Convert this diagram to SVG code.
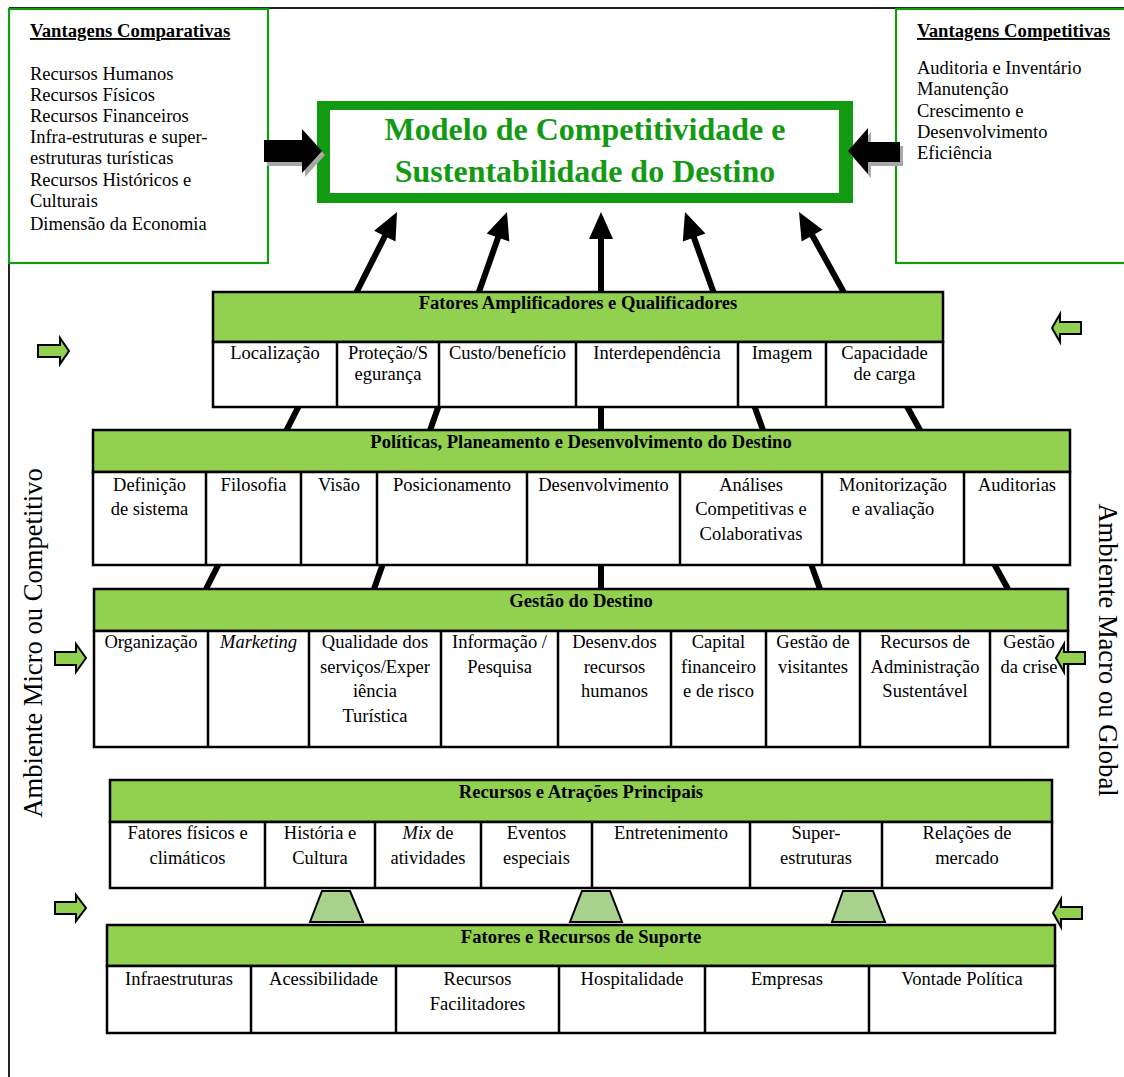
<svg xmlns="http://www.w3.org/2000/svg" width="1124" height="1077" viewBox="0 0 1124 1077">
<style>
.frame{fill:none;stroke:#222;stroke-width:2}
.gbox{fill:#fff;stroke:#139A13;stroke-width:2.2}
.hdr{fill:#92D050;stroke:#000;stroke-width:2.5}
.body{fill:#fff;stroke:#000;stroke-width:2.5}
.div{stroke:#000;stroke-width:2.5}
.conn{stroke:#000;stroke-width:6;fill:none}
.head{fill:#000}
.ga{fill:#92D050;stroke:#000;stroke-width:2;stroke-linejoin:miter}
.trap{fill:#A9D18E;stroke:#000;stroke-width:2}
.ba{fill:#000}
.sh{fill:#a8a8a8}
text{font-family:"Liberation Serif","Times New Roman",serif;fill:#000}
.t{font-size:18.5px;text-anchor:middle}
.h{font-size:18.6px;font-weight:bold;text-anchor:middle}
.s{font-size:18.5px}
.st{font-size:18.7px;font-weight:bold;text-decoration:underline}
.title{font-size:32px;font-weight:bold;fill:#139A13;text-anchor:middle}
.v{font-size:26.6px;text-anchor:middle}
</style>
<rect width="1124" height="1077" fill="#fff"/>
<g id="frame">
<line class="frame" x1="9" y1="8" x2="9" y2="1077"/>
<line class="frame" x1="9" y1="8" x2="1124" y2="8"/>
</g>
<g id="connectors">
<line class="conn" x1="206" y1="589" x2="386" y2="234"/>
<line class="conn" x1="374" y1="589" x2="499" y2="235"/>
<line class="conn" x1="601" y1="589" x2="601" y2="236"/>
<line class="conn" x1="820" y1="589" x2="693" y2="235"/>
<line class="conn" x1="1008" y1="589" x2="811" y2="233"/>
<polygon class="head" points="397,212 395.5,241.5 374.1,230.7"/>
<polygon class="head" points="507,212 509.3,241.5 486.7,233.5"/>
<polygon class="head" points="601,212 613,239 589,239"/>
<polygon class="head" points="685,212 705.4,233.4 682.8,241.4"/>
<polygon class="head" points="799,212 822.6,229.8 801.6,241.4"/>
</g>
<g id="vantagens-comparativas">
<rect class="gbox" x="9" y="9" width="259" height="254"/>
<text class="st" x="30" y="37">Vantagens Comparativas</text>
<text class="s" x="30" y="80">Recursos Humanos</text>
<text class="s" x="30" y="101">Recursos Físicos</text>
<text class="s" x="30" y="122">Recursos Financeiros</text>
<text class="s" x="30" y="143">Infra-estruturas e super-</text>
<text class="s" x="30" y="164">estruturas turísticas</text>
<text class="s" x="30" y="186">Recursos Históricos e</text>
<text class="s" x="30" y="207">Culturais</text>
<text class="s" x="30" y="230">Dimensão da Economia</text>
</g>
<g id="vantagens-competitivas">
<rect class="gbox" x="896" y="9" width="240" height="254"/>
<text class="st" x="917" y="37">Vantagens Competitivas</text>
<text class="s" x="917" y="74">Auditoria e Inventário</text>
<text class="s" x="917" y="95">Manutenção</text>
<text class="s" x="917" y="117">Crescimento e</text>
<text class="s" x="917" y="138">Desenvolvimento</text>
<text class="s" x="917" y="159">Eficiência</text>
</g>
<g id="modelo">
<rect x="317" y="101" width="536" height="102" fill="#139A13"/>
<rect x="330" y="110" width="509" height="83" fill="#fff"/>
<text class="title" x="585" y="140">Modelo de Competitividade e</text>
<text class="title" x="585" y="182">Sustentabilidade do Destino</text>
</g>
<g id="black-arrows">
<polygon class="sh" points="267,144 305,144 305,133 325,155 305,177 305,166 267,166"/>
<polygon class="ba" points="264,140 302,140 302,129 322,151 302,173 302,162 264,162"/>
<polygon class="sh" points="903,146 871,146 871,132 851,155 871,178 871,166 903,166"/>
<polygon class="ba" points="900,142 868,142 868,128 848,151 868,174 868,162 900,162"/>
</g>
<g id="fatores-amplificadores">
<rect class="hdr" x="213" y="292" width="730" height="50"/>
<rect class="body" x="213" y="342" width="730" height="65"/>
<path class="div" d="M337,342V407M439,342V407M576,342V407M738,342V407M826,342V407"/>
<text class="h" x="578" y="309">Fatores Amplificadores e Qualificadores</text>
<text class="t" x="275" y="359">Localização</text>
<text class="t" x="388" y="359">Proteção/S</text>
<text class="t" x="388" y="380">egurança</text>
<text class="t" x="507.5" y="359">Custo/benefício</text>
<text class="t" x="657" y="359">Interdependência</text>
<text class="t" x="782" y="359">Imagem</text>
<text class="t" x="884.5" y="359">Capacidade</text>
<text class="t" x="884.5" y="380">de carga</text>
</g>
<g id="politicas">
<rect class="hdr" x="93" y="430" width="977" height="42"/>
<rect class="body" x="93" y="472" width="977" height="93"/>
<path class="div" d="M206,472V565M301,472V565M377,472V565M527,472V565M680,472V565M822,472V565M964,472V565"/>
<text class="h" x="581" y="448">Políticas, Planeamento e Desenvolvimento do Destino</text>
<text class="t" x="149.5" y="491">Definição</text>
<text class="t" x="149.5" y="515">de sistema</text>
<text class="t" x="253.5" y="491">Filosofia</text>
<text class="t" x="339" y="491">Visão</text>
<text class="t" x="452" y="491">Posicionamento</text>
<text class="t" x="603.5" y="491">Desenvolvimento</text>
<text class="t" x="751" y="491">Análises</text>
<text class="t" x="751" y="515">Competitivas e</text>
<text class="t" x="751" y="540">Colaborativas</text>
<text class="t" x="893" y="491">Monitorização</text>
<text class="t" x="893" y="515">e avaliação</text>
<text class="t" x="1017" y="491">Auditorias</text>
</g>
<g id="gestao">
<rect class="hdr" x="94" y="589" width="974" height="42"/>
<rect class="body" x="94" y="631" width="974" height="116"/>
<path class="div" d="M208,631V747M309,631V747M441,631V747M558,631V747M671,631V747M766,631V747M860,631V747M990,631V747"/>
<text class="h" x="581" y="607">Gestão do Destino</text>
<text class="t" x="151" y="648">Organização</text>
<text class="t" x="258.5" y="648" font-style="italic">Marketing</text>
<text class="t" x="375" y="648">Qualidade dos</text>
<text class="t" x="375" y="673">serviços/Exper</text>
<text class="t" x="375" y="697">iência</text>
<text class="t" x="375" y="722">Turística</text>
<text class="t" x="499.5" y="648">Informação /</text>
<text class="t" x="499.5" y="673">Pesquisa</text>
<text class="t" x="614.5" y="648">Desenv.dos</text>
<text class="t" x="614.5" y="673">recursos</text>
<text class="t" x="614.5" y="697">humanos</text>
<text class="t" x="718.5" y="648">Capital</text>
<text class="t" x="718.5" y="673">financeiro</text>
<text class="t" x="718.5" y="697">e de risco</text>
<text class="t" x="813" y="648">Gestão de</text>
<text class="t" x="813" y="673">visitantes</text>
<text class="t" x="925" y="648">Recursos de</text>
<text class="t" x="925" y="673">Administração</text>
<text class="t" x="925" y="697">Sustentável</text>
<text class="t" x="1029" y="648">Gestão</text>
<text class="t" x="1029" y="673">da crise</text>
</g>
<g id="recursos">
<rect class="hdr" x="110" y="780" width="942" height="42"/>
<rect class="body" x="110" y="822" width="942" height="66"/>
<path class="div" d="M265,822V888M375,822V888M481,822V888M592,822V888M750,822V888M882,822V888"/>
<text class="h" x="581" y="798">Recursos e Atrações Principais</text>
<text class="t" x="187.5" y="839">Fatores físicos e</text>
<text class="t" x="187.5" y="864">climáticos</text>
<text class="t" x="320" y="839">História e</text>
<text class="t" x="320" y="864">Cultura</text>
<text class="t" x="428" y="839"><tspan font-style="italic">Mix</tspan> de</text>
<text class="t" x="428" y="864">atividades</text>
<text class="t" x="536.5" y="839">Eventos</text>
<text class="t" x="536.5" y="864">especiais</text>
<text class="t" x="671" y="839">Entretenimento</text>
<text class="t" x="816" y="839">Super-</text>
<text class="t" x="816" y="864">estruturas</text>
<text class="t" x="967" y="839">Relações de</text>
<text class="t" x="967" y="864">mercado</text>
</g>
<g id="trapezios">
<polygon class="trap" points="322,891 350,891 363,922 310,922"/>
<polygon class="trap" points="582,891 610,891 622,922 570,922"/>
<polygon class="trap" points="843,891 873,891 885,922 832,922"/>
</g>
<g id="suporte">
<rect class="hdr" x="107" y="925" width="948" height="41"/>
<rect class="body" x="107" y="966" width="948" height="67"/>
<path class="div" d="M251,966V1033M396,966V1033M559,966V1033M705,966V1033M869,966V1033"/>
<text class="h" x="581" y="943">Fatores e Recursos de Suporte</text>
<text class="t" x="179" y="985">Infraestruturas</text>
<text class="t" x="323.5" y="985">Acessibilidade</text>
<text class="t" x="477.5" y="985">Recursos</text>
<text class="t" x="477.5" y="1010">Facilitadores</text>
<text class="t" x="632" y="985">Hospitalidade</text>
<text class="t" x="787" y="985">Empresas</text>
<text class="t" x="962" y="985">Vontade Política</text>
</g>
<g id="green-arrows">
<polygon class="ga" points="38,345 60,345 60,338 69,351 60,364 60,357 38,357"/>
<polygon class="ga" points="55,652 76,652 76,644 86,658 76,672 76,665 55,665"/>
<polygon class="ga" points="55,902 76,902 76,895 86,908 76,921 76,914 55,914"/>
<polygon class="ga" points="1081,322 1060,322 1060,314 1052,328 1060,342 1060,334 1081,334"/>
<polygon class="ga" points="1085,652 1064,652 1064,644 1056,658 1064,672 1064,664 1085,664"/>
<polygon class="ga" points="1082,907 1061,907 1061,899 1053,913 1061,927 1061,919 1082,919"/>
</g>
<g id="ambientes">
<text class="v" transform="translate(42,643) rotate(-90)">Ambiente Micro ou Competitivo</text>
<text class="v" transform="translate(1099,650) rotate(90)">Ambiente Macro ou Global</text>
</g>
</svg>
